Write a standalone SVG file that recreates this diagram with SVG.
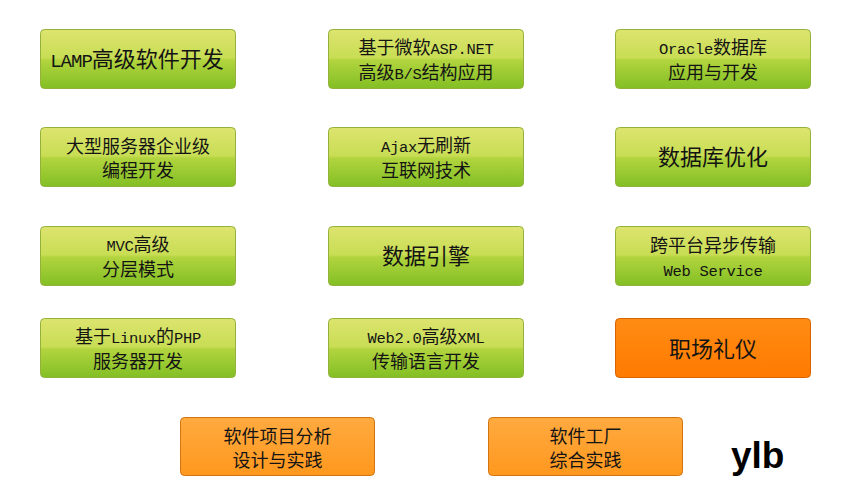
<svg xmlns="http://www.w3.org/2000/svg" width="850" height="500" viewBox="0 0 850 500">
<defs>
<linearGradient id="gGreen" x1="0" y1="0" x2="0" y2="1">
<stop offset="0" stop-color="#dde46f"/>
<stop offset="0.48" stop-color="#c8dd54"/>
<stop offset="0.52" stop-color="#b2d43e"/>
<stop offset="1" stop-color="#82bf24"/>
</linearGradient>
<linearGradient id="gOrange" x1="0" y1="0" x2="0" y2="1">
<stop offset="0" stop-color="#ff8c14"/>
<stop offset="1" stop-color="#ff7a00"/>
</linearGradient>
<linearGradient id="gLight" x1="0" y1="0" x2="0" y2="1">
<stop offset="0" stop-color="#ffaa40"/>
<stop offset="1" stop-color="#ff981e"/>
</linearGradient>
</defs>
<style>
.g{fill:url(#gGreen);stroke:#94b13c;stroke-width:1}
.o{fill:url(#gOrange);stroke:#d86400;stroke-width:1}
.l{fill:url(#gLight);stroke:#d27410;stroke-width:1}
text{font-family:"Noto Sans CJK SC","Liberation Sans",sans-serif;fill:#141414;text-anchor:middle}
.s{font-size:18px}
.b{font-size:22px}
.m{font-family:"Liberation Mono","Noto Sans CJK SC",monospace;font-size:15.5px;letter-spacing:-0.3px}
.mb{font-family:"Liberation Mono","Noto Sans CJK SC",monospace;font-size:19px;letter-spacing:-1px}
.sig{font-family:"Liberation Sans",Arial,sans-serif;font-weight:bold;font-size:37px;text-anchor:start;fill:#000}
</style>
<rect width="850" height="500" fill="#ffffff"/>
<g id="connectors"></g>

<g id="n1"><rect class="g" x="40.5" y="29.5" width="195" height="59" rx="4"/>
<text class="b" x="137" y="67"><tspan class="mb">LAMP</tspan>高级软件开发</text></g>

<g id="n2"><rect class="g" x="328.5" y="29.5" width="195" height="59" rx="4"/>
<text class="s" x="426" y="54">基于微软<tspan class="m">ASP.NET</tspan></text>
<text class="s" x="426" y="79">高级<tspan class="m">B/S</tspan>结构应用</text></g>

<g id="n3"><rect class="g" x="615.5" y="29.5" width="195" height="59" rx="4"/>
<text class="s" x="713" y="54"><tspan class="m">Oracle</tspan>数据库</text>
<text class="s" x="713" y="79">应用与开发</text></g>

<g id="n4"><rect class="g" x="40.5" y="127.5" width="195" height="59" rx="4"/>
<text class="s" x="138" y="153">大型服务器企业级</text>
<text class="s" x="138" y="177">编程开发</text></g>

<g id="n5"><rect class="g" x="328.5" y="127.5" width="195" height="59" rx="4"/>
<text class="s" x="426" y="152"><tspan class="m">Ajax</tspan>无刷新</text>
<text class="s" x="426" y="177">互联网技术</text></g>

<g id="n6"><rect class="g" x="615.5" y="127.5" width="195" height="59" rx="4"/>
<text class="b" x="713" y="165">数据库优化</text></g>

<g id="n7"><rect class="g" x="40.5" y="226.5" width="195" height="59" rx="4"/>
<text class="s" x="138" y="251"><tspan class="m">MVC</tspan>高级</text>
<text class="s" x="138" y="276">分层模式</text></g>

<g id="n8"><rect class="g" x="328.5" y="226.5" width="195" height="59" rx="4"/>
<text class="b" x="426" y="264">数据引擎</text></g>

<g id="n9"><rect class="g" x="615.5" y="226.5" width="195" height="59" rx="4"/>
<text class="s" x="713" y="252">跨平台异步传输</text>
<text class="s" x="713" y="276"><tspan class="m">Web Service</tspan></text></g>

<g id="n10"><rect class="g" x="40.5" y="318.5" width="195" height="59" rx="4"/>
<text class="s" x="138" y="343">基于<tspan class="m">Linux</tspan>的<tspan class="m">PHP</tspan></text>
<text class="s" x="138" y="368">服务器开发</text></g>

<g id="n11"><rect class="g" x="328.5" y="318.5" width="195" height="59" rx="4"/>
<text class="s" x="426" y="343"><tspan class="m">Web2.0</tspan>高级<tspan class="m">XML</tspan></text>
<text class="s" x="426" y="368">传输语言开发</text></g>

<g id="n12"><rect class="o" x="615.5" y="318.5" width="195" height="59" rx="4"/>
<text class="b" x="713" y="357">职场礼仪</text></g>

<g id="n13"><rect class="l" x="180.5" y="417.5" width="194" height="58" rx="4"/>
<text class="s" x="277.5" y="443">软件项目分析</text>
<text class="s" x="277.5" y="467">设计与实践</text></g>

<g id="n14"><rect class="l" x="488.5" y="417.5" width="194" height="58" rx="4"/>
<text class="s" x="585.5" y="443">软件工厂</text>
<text class="s" x="585.5" y="467">综合实践</text></g>

<text class="sig" x="731" y="468">ylb</text>
</svg>
